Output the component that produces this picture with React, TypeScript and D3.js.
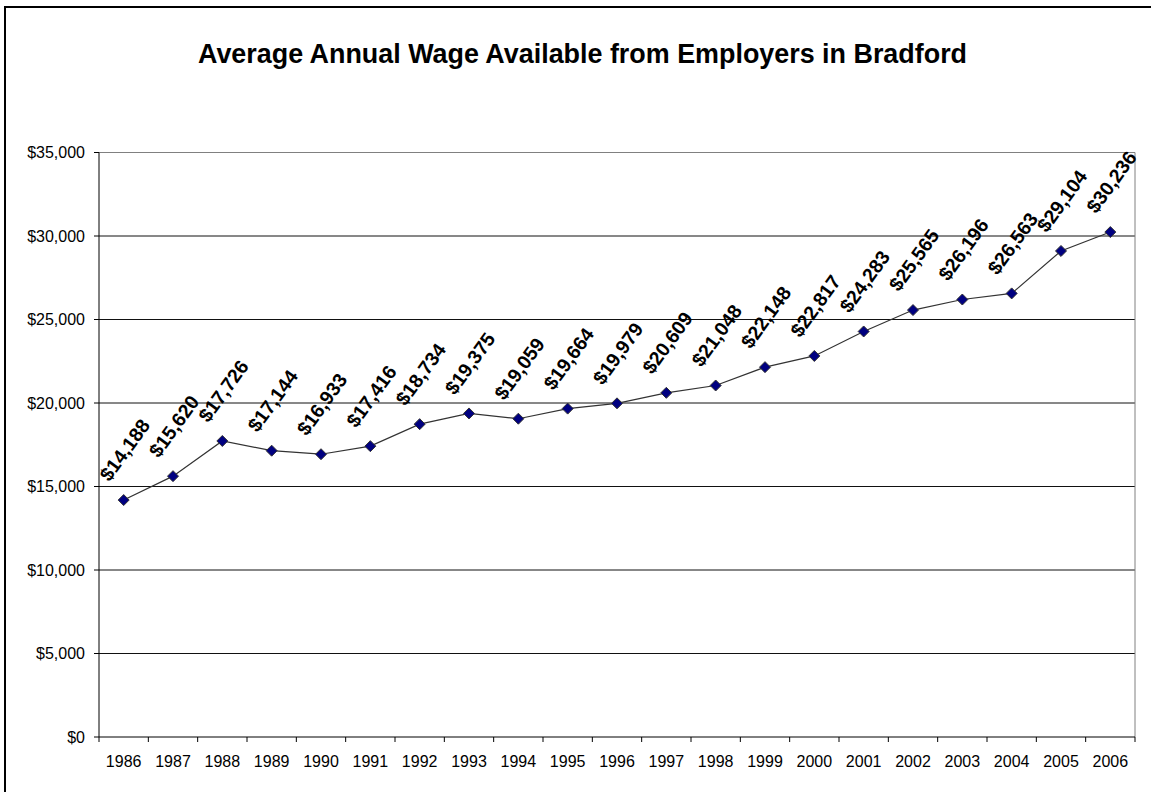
import React from "react";
import * as d3 from "d3";

const years = ["1986","1987","1988","1989","1990","1991","1992","1993","1994","1995","1996","1997","1998","1999","2000","2001","2002","2003","2004","2005","2006"];
const wages = [14188,15620,17726,17144,16933,17416,18734,19375,19059,19664,19979,20609,21048,22148,22817,24283,25565,26196,26563,29104,30236];
const yTicks = [0,5000,10000,15000,20000,25000,30000,35000];
const title = "Average Annual Wage Available from Employers in Bradford";

const W = 1151, H = 792;
const left = 99, right = 1135, top = 152.5, bottom = 737;

export default function App() {
  const x = d3.scaleBand<string>().domain(years).range([left, right]);
  const y = d3.scaleLinear().domain([0, 35000]).range([bottom, top]);
  const fmt = (v: number) => "$" + d3.format(",")(v);
  const line = d3.line<number>().x((_, i) => x(years[i])! + x.bandwidth() / 2).y(d => y(d));
  const font = "Arial, 'Liberation Sans', Helvetica, sans-serif";
  return (
    <svg width={W} height={H} style={{ position: "absolute", left: 0, top: 0, background: "#fff" }} fontFamily={font}>
      <rect x={0} y={0} width={W} height={H} fill="#fff" />
      <rect x={5} y={7} width={W + 20} height={H + 20} fill="none" stroke="#000" strokeWidth={2} />
      <text x={582.5} y={63} textAnchor="middle" fontWeight="bold" fontSize={26.9}>{title}</text>
      {yTicks.map(t => (
        <g key={t}>
          {t > 0 && t < 35000 && <line x1={left} x2={right} y1={y(t)} y2={y(t)} stroke="#111" strokeWidth={1} />}
          <line x1={left - 5} x2={left} y1={y(t)} y2={y(t)} stroke="#000" />
          <text x={85} y={y(t)} dy="0.35em" textAnchor="end" fontSize={16}>{fmt(t)}</text>
        </g>
      ))}
      <line x1={left} x2={right} y1={top} y2={top} stroke="#808080" />
      <line x1={right} x2={right} y1={top} y2={bottom} stroke="#808080" />
      <line x1={left} x2={left} y1={top} y2={bottom} stroke="#000" />
      <line x1={left} x2={right} y1={bottom} y2={bottom} stroke="#000" />
      {years.map((yr, i) => (
        <g key={yr}>
          <line x1={x(yr)!} x2={x(yr)!} y1={bottom} y2={bottom + 5} stroke="#000" />
          {i === years.length - 1 && <line x1={right} x2={right} y1={bottom} y2={bottom + 5} stroke="#000" />}
          <text x={x(yr)! + x.bandwidth() / 2} y={767} textAnchor="middle" fontSize={16}>{yr}</text>
        </g>
      ))}
      <path d={line(wages)!} fill="none" stroke="#333" strokeWidth={1.2} />
      {wages.map((v, i) => {
        const cx = x(years[i])! + x.bandwidth() / 2;
        const cy = y(v);
        return (
          <g key={i}>
            <path d={`M${cx},${cy - 5.5}L${cx + 5.5},${cy}L${cx},${cy + 5.5}L${cx - 5.5},${cy}Z`} fill="#000080" stroke="#333" strokeWidth={1} />
            <text transform={`translate(${cx + 1},${cy - 50}) rotate(-54)`} textAnchor="middle" dy="0.35em" fontWeight="bold" fontSize={19.5}>{fmt(v)}</text>
          </g>
        );
      })}
    </svg>
  );
}
